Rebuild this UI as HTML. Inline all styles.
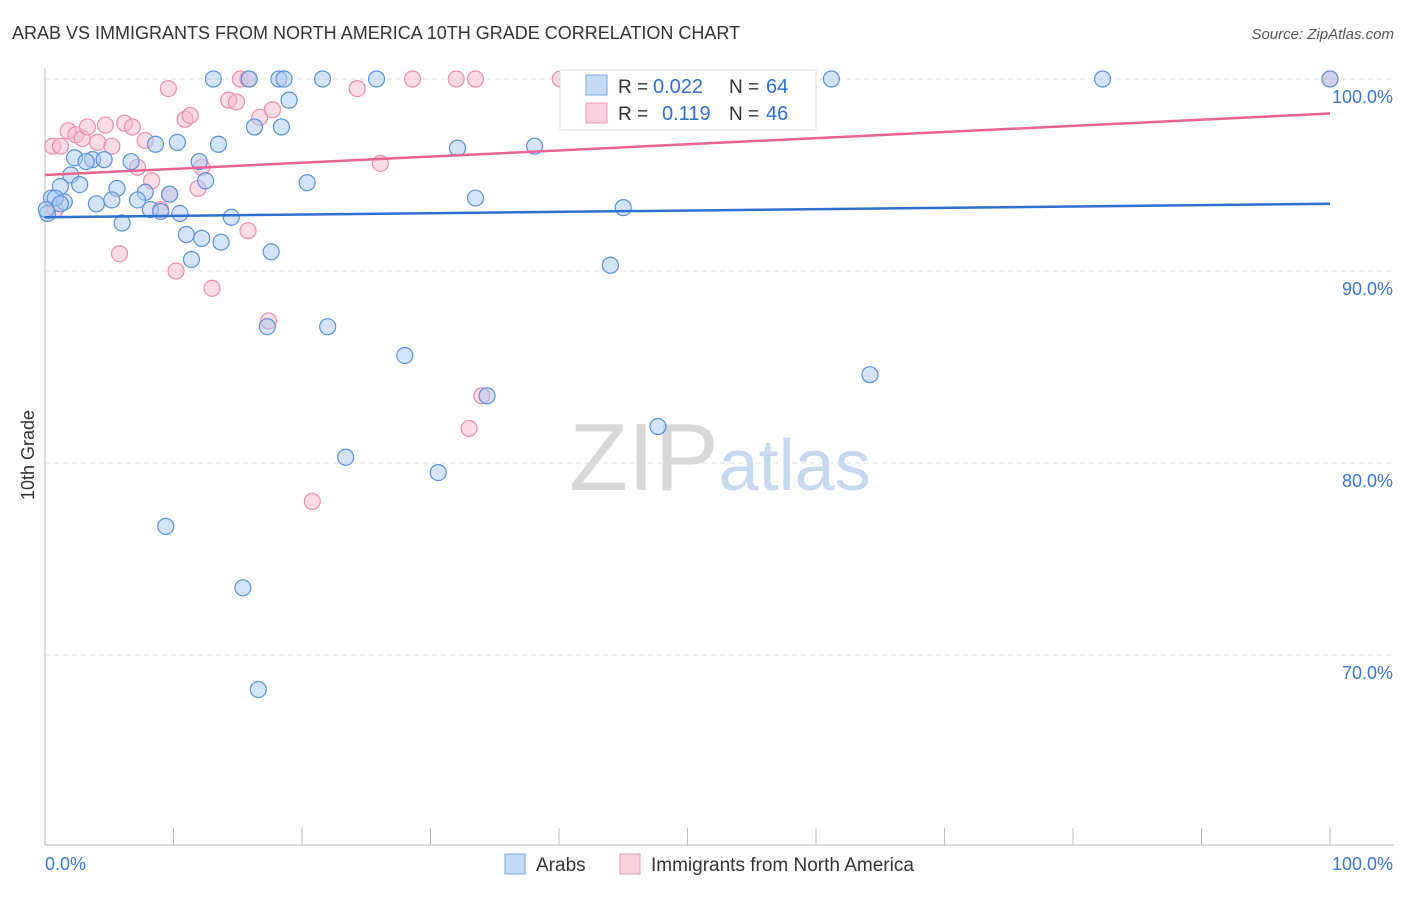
<!DOCTYPE html>
<html><head><meta charset="utf-8"><style>
body{margin:0;background:#fff;font-family:"Liberation Sans",sans-serif;}
svg text{font-family:"Liberation Sans",sans-serif;}
</style></head><body>
<svg id="chart" width="1406" height="892" viewBox="0 0 1406 892">
<text x="12" y="39" font-size="18" fill="#333">ARAB VS IMMIGRANTS FROM NORTH AMERICA 10TH GRADE CORRELATION CHART</text>
<text x="1394" y="39" font-size="15" fill="#555" text-anchor="end" font-style="italic">Source: ZipAtlas.com</text>
<text x="34" y="455" font-size="18" fill="#333" text-anchor="middle" transform="rotate(-90 34 455)">10th Grade</text>
<g id="grid"></g>
<text x="720" y="490" font-size="96" fill="#d8d8d8" text-anchor="middle" font-family="Liberation Serif">ZIP<tspan fill="#c8d8ee" font-family="Liberation Sans" font-size="72">atlas</tspan></text>
<g id="marks"></g>
<g>
<rect x="560" y="70" width="256" height="60" fill="#fff" stroke="#ddd"/>
<rect x="586" y="75" width="21" height="20" fill="#c5d9f5" stroke="#7aa6e0"/>
<text x="618" y="93" font-size="19" fill="#333">R =</text>
<text x="653" y="93" font-size="20" fill="#2f6fd1">0.022</text>
<text x="729" y="93" font-size="19" fill="#333">N =</text>
<text x="766" y="93" font-size="20" fill="#2f6fd1">64</text>
<rect x="586" y="103" width="21" height="20" fill="#fad0dc" stroke="#ec9ab4"/>
<text x="618" y="120" font-size="19" fill="#333">R =</text>
<text x="662" y="120" font-size="20" fill="#2f6fd1">0.119</text>
<text x="729" y="120" font-size="19" fill="#333">N =</text>
<text x="766" y="120" font-size="20" fill="#2f6fd1">46</text>
</g>
<g>
<rect x="505" y="854" width="20" height="20" fill="#c5d9f5" stroke="#7aa6e0"/>
<text x="536" y="871" font-size="19" fill="#333">Arabs</text>
<rect x="620" y="854" width="20" height="20" fill="#fad0dc" stroke="#ec9ab4"/>
<text x="651" y="871" font-size="19" fill="#333">Immigrants from North America</text>
</g>
</svg>
<script>
const yTicks=[100,90,80,70];
const xTickLabels=["0.0%","100.0%"];
const blueX=[13.1,15.9,18.2,18.6,21.6,25.8,61.2,82.3,100,19,16.3,18.4,8.6,10.3,13.5,32.1,38.1,2.3,3.7,4.6,6.7,12,3.2,2,12.5,20.4,2.7,5.6,1.2,7.8,9.7,0.5,1.5,4,5.2,7.2,33.5,45,8.2,9,10.5,14.5,6,11,12.2,13.7,17.6,11.4,44,17.3,22,28,64.2,34.4,47.7,23.4,30.6,9.4,15.4,16.6,0.2,0.8,0.1,1.2];
const blueY=[100,100,100,100,100,100,100,100,100,98.9,97.5,97.5,96.6,96.7,96.6,96.4,96.5,95.9,95.8,95.8,95.7,95.7,95.7,95,94.7,94.6,94.5,94.3,94.4,94.1,94,93.8,93.6,93.5,93.7,93.7,93.8,93.3,93.2,93.1,93,92.8,92.5,91.9,91.7,91.5,91,90.6,90.3,87.1,87.1,85.6,84.6,83.5,81.9,80.3,79.5,76.7,73.5,68.2,93,93.8,93.2,93.5];
const pinkX=[0.6,1.8,2.4,2.9,3.3,4.1,5.2,4.7,6.2,6.8,7.8,7.2,8.3,9,9.7,11.9,12.2,9.6,10.9,11.3,14.3,14.9,15.2,15.8,16.7,17.7,24.3,26.1,28.6,32,33.5,40.1,41.6,47.1,50.2,100,5.8,10.2,13,17.4,15.8,34,33,20.8,1.2,0.8];
const pinkY=[96.5,97.3,97.1,96.9,97.5,96.7,96.5,97.6,97.7,97.5,96.8,95.4,94.7,93.2,94,94.3,95.4,99.5,97.9,98.1,98.9,98.8,100,100,98,98.4,99.5,95.6,100,100,100,100,100,100,100,100,90.9,90,89.1,87.4,92.1,83.5,81.8,78,96.5,93.2];
const blueTrend=[92.8,93.5], pinkTrend=[95.0,98.2];
const X0=45,X1=1330,Y100=79,PPU=19.2;
const xs=v=>X0+(X1-X0)*v/100, ys=v=>Y100+(100-v)*PPU;
const NS="http://www.w3.org/2000/svg";
const grid=document.getElementById('grid'), marks=document.getElementById('marks');
function mk(tag,a,p){const e=document.createElementNS(NS,tag);for(const k in a)e.setAttribute(k,a[k]);p.appendChild(e);return e;}
let ax=mk('line',{x1:X0,y1:845,x2:1394,y2:845,stroke:'#bbb'},grid);


let ay=mk('line',{x1:X0,y1:68,x2:X0,y2:845,stroke:'#bbb'},grid);


yTicks.forEach(v=>{
 let l=mk('line',{x1:X0,y1:ys(v),x2:1394,y2:ys(v),stroke:'#ddd','stroke-dasharray':'5,4'},grid);
 
 
 let t=mk('text',{x:1393,y:ys(v)+24,'font-size':18,fill:'#3b76d6','text-anchor':'end'},grid);t.textContent=v.toFixed(1)+'%';
 
 
});
for(let i=0;i<=10;i++){let l=mk('line',{x1:xs(i*10),y1:828,x2:xs(i*10),y2:845,stroke:'#bbb'},grid);
 
 }
[[0,'start'],[100,'end']].forEach((p,i)=>{let t=mk('text',{x:i?1393:45,y:870,'font-size':18,fill:'#3b76d6','text-anchor':p[1]},grid);t.textContent=xTickLabels[i];
 
 });
function pts(X,Y,fill,stroke,name){X.forEach((x,i)=>{let c=mk('circle',{cx:xs(x),cy:ys(Y[i]),r:8,fill:fill,'fill-opacity':0.5,stroke:stroke,'stroke-width':1.2},marks);
 
 });}
pts(pinkX,pinkY,'#f7b8cb','#ec8fab','pink-point');
pts(blueX,blueY,'#a9c7ef','#5b92dc','blue-point');
let bt=mk('line',{x1:xs(0),y1:ys(blueTrend[0]),x2:xs(100),y2:ys(blueTrend[1]),stroke:'#2f6fd1','stroke-width':2.5},marks);


let pt=mk('line',{x1:xs(0),y1:ys(pinkTrend[0]),x2:xs(100),y2:ys(pinkTrend[1]),stroke:'#e8638f','stroke-width':2.5},marks);


</script>
</body></html>
